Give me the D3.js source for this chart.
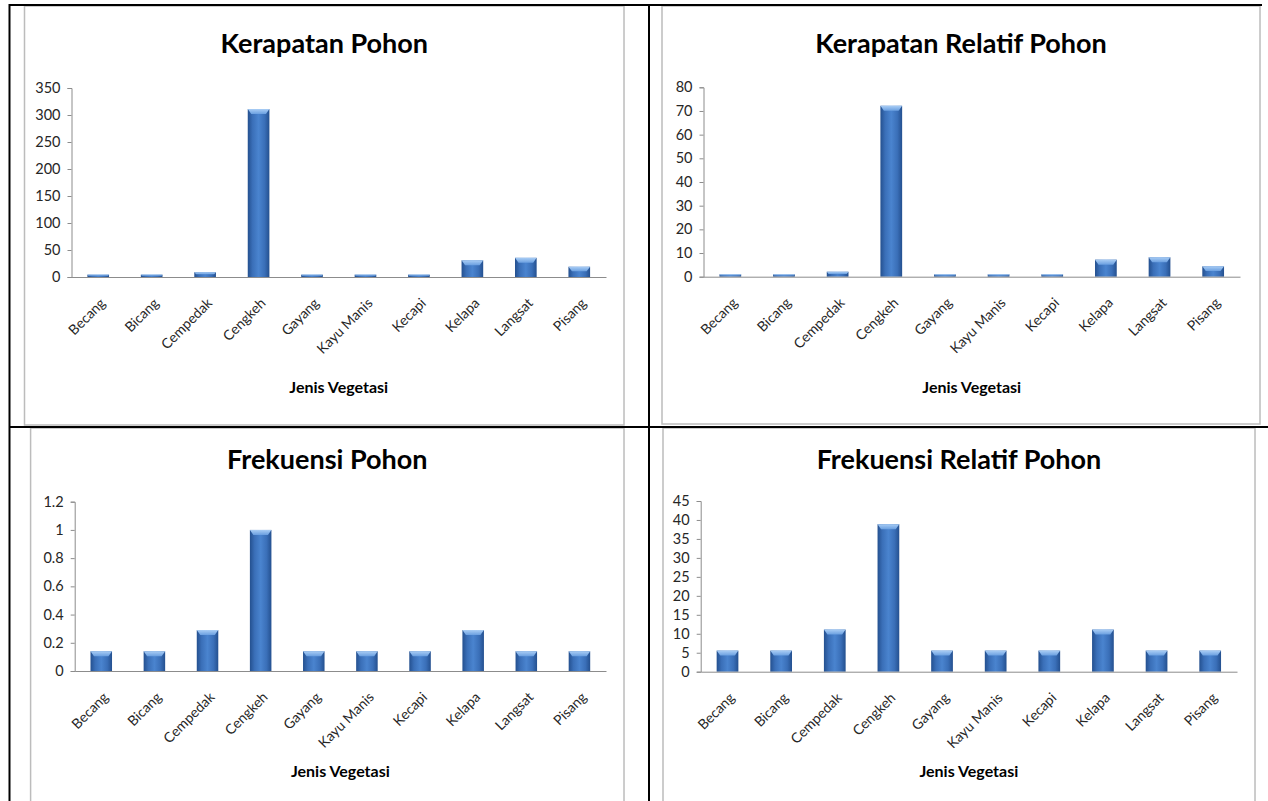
<!DOCTYPE html>
<html><head><meta charset="utf-8">
<script src="https://cdn.jsdelivr.net/npm/d3@7"></script>
<style>body{margin:0;background:#fff}svg{display:block}</style>
</head><body>
<svg id="c" width="1268" height="801"></svg>
<script>
// ---------- data ----------
const categories = ["Becang","Bicang","Cempedak","Cengkeh","Gayang","Kayu Manis","Kecapi","Kelapa","Langsat","Pisang"];
const kerapatan        = [4.4, 4.4, 8.9, 311, 4.4, 4.4, 4.4, 31, 35.5, 19];
const kerapatanRelatif = [1.0, 1.0, 2.1, 72.2, 1.0, 1.0, 1.0, 7.2, 8.2, 4.4];
const frekuensi        = [0.14, 0.14, 0.29, 1, 0.14, 0.14, 0.14, 0.29, 0.14, 0.14];
const frekuensiRelatif = [5.56, 5.56, 11.11, 38.89, 5.56, 5.56, 5.56, 11.11, 5.56, 5.56];
const ticksKerapatan        = [0, 50, 100, 150, 200, 250, 300, 350];
const ticksKerapatanRelatif = [0, 10, 20, 30, 40, 50, 60, 70, 80];
const ticksFrekuensi        = [0, 0.2, 0.4, 0.6, 0.8, 1, 1.2];
const ticksFrekuensiRelatif = [0, 5, 10, 15, 20, 25, 30, 35, 40, 45];
const chartTitles = ["Kerapatan Pohon", "Kerapatan Relatif Pohon", "Frekuensi Pohon", "Frekuensi Relatif Pohon"];
const xAxisTitle = "Jenis Vegetasi";

// ---------- layout ----------
const panels = [
  {title: chartTitles[0], values: kerapatan, ticks: ticksKerapatan,
   frame: [24.5, 6, 624, 425], plot: [71.5, 88, 606, 277], titleY: 53, axisTitleY: 393},
  {title: chartTitles[1], values: kerapatanRelatif, ticks: ticksKerapatanRelatif,
   frame: [662, 6, 1260, 424], plot: [703.5, 87.3, 1240, 276.7], titleY: 53, axisTitleY: 393},
  {title: chartTitles[2], values: frekuensi, ticks: ticksFrekuensi,
   frame: [30.6, 428, 624, 810], plot: [74.7, 501.7, 606, 671], titleY: 469, axisTitleY: 776.7},
  {title: chartTitles[3], values: frekuensiRelatif, ticks: ticksFrekuensiRelatif,
   frame: [663, 428, 1255, 810], plot: [700.7, 501, 1237, 671.7], titleY: 469, axisTitleY: 776.7}
];

const svg = d3.select("#c");
const FONT = "Lato, 'Open Sans', 'Liberation Sans', sans-serif";

const defs = svg.append("defs");
const g1 = defs.append("linearGradient").attr("id","barGrad").attr("x1","0").attr("x2","1").attr("y1","0").attr("y2","0");
[["0%","#24508f"],["22%","#3a6fb8"],["50%","#4a84cf"],["78%","#3a6fb8"],["100%","#24508f"]]
  .forEach(s => g1.append("stop").attr("offset", s[0]).attr("stop-color", s[1]));
const g2 = defs.append("linearGradient").attr("id","capGrad").attr("x1","0").attr("x2","0").attr("y1","0").attr("y2","1");
[["0%","#a9cdf5"],["100%","#6a9fe0"]]
  .forEach(s => g2.append("stop").attr("offset", s[0]).attr("stop-color", s[1]));

// panel frames
panels.forEach(p => {
  const [x0,y0,x1,y1] = p.frame;
  svg.append("rect").attr("x",x0).attr("y",y0).attr("width",x1-x0).attr("height",y1-y0)
    .attr("fill","#fff").attr("stroke","#bcbcbc").attr("stroke-width",1.5);
});

panels.forEach(p => {
  const [px0, py0, px1, py1] = p.plot;
  const x = d3.scaleBand().domain(categories).range([px0, px1]).paddingInner(0).paddingOuter(0);
  const y = d3.scaleLinear().domain([0, d3.max(p.ticks)]).range([py1, py0]);
  const g = svg.append("g");
  const bw = x.bandwidth() * 0.405;

  // title
  g.append("text").attr("x", (p.frame[0] + p.frame[2]) / 2).attr("y", p.titleY)
    .attr("text-anchor","middle").attr("font-family",FONT).attr("font-weight","bold")
    .attr("font-size",27).attr("fill","#000").text(p.title);

  // bars
  const data = categories.map((c, i) => ({c, v: p.values[i]}));
  const bars = g.append("g").selectAll("g").data(data).join("g");
  bars.append("rect")
    .attr("x", d => x(d.c) + (x.bandwidth() - bw) / 2)
    .attr("y", d => y(d.v))
    .attr("width", bw)
    .attr("height", d => y(0) - y(d.v))
    .attr("fill","url(#barGrad)");
  bars.append("path")
    .attr("d", d => {
      const bx = x(d.c) + (x.bandwidth() - bw) / 2;
      const by = y(d.v);
      const h = y(0) - y(d.v);
      const ch = Math.min(5, h * 0.45);
      const ins = Math.min(3.5, ch * 0.8);
      return `M${bx},${by}L${bx+bw},${by}L${bx+bw-ins},${by+ch}L${bx+ins},${by+ch}Z`;
    })
    .attr("fill","url(#capGrad)");

  // y axis
  const ya = g.append("g").attr("transform",`translate(${px0},0)`)
    .call(d3.axisLeft(y).tickValues(p.ticks).tickFormat(d3.format("~g")).tickSizeOuter(0).tickSize(4).tickPadding(7));
  ya.select(".domain").attr("stroke","#8c8c8c");
  ya.selectAll(".tick line").attr("stroke","#8c8c8c");
  ya.selectAll("text").attr("font-family",FONT).attr("font-size",14.5).attr("fill","#262626");

  // x axis
  const xa = g.append("g").attr("transform",`translate(0,${py1})`)
    .call(d3.axisBottom(x).tickSize(0).tickSizeOuter(0));
  xa.select(".domain").attr("stroke","#8c8c8c");
  xa.selectAll(".tick text")
    .attr("font-family",FONT).attr("font-size",14).attr("fill","#262626")
    .attr("text-anchor","end")
    .attr("dy","0")
    .attr("y",0)
    .attr("transform","translate(8,27) rotate(-45)");

  // x axis title
  g.append("text").attr("x",(px0 + px1) / 2).attr("y",p.axisTitleY)
    .attr("text-anchor","middle").attr("font-family",FONT).attr("font-weight","bold")
    .attr("font-size",16).attr("fill","#000").text(xAxisTitle);
});

// table borders (black)
const lines = [
  [9, 5, 1262, 5],
  [9.5, 4, 9.5, 801],
  [649, 4, 649, 801],
  [9, 427, 1268, 427]
];
svg.append("g").selectAll("line").data(lines).join("line")
  .attr("x1",d=>d[0]).attr("y1",d=>d[1]).attr("x2",d=>d[2]).attr("y2",d=>d[3])
  .attr("stroke","#000").attr("stroke-width",2);
</script>
</body></html>
